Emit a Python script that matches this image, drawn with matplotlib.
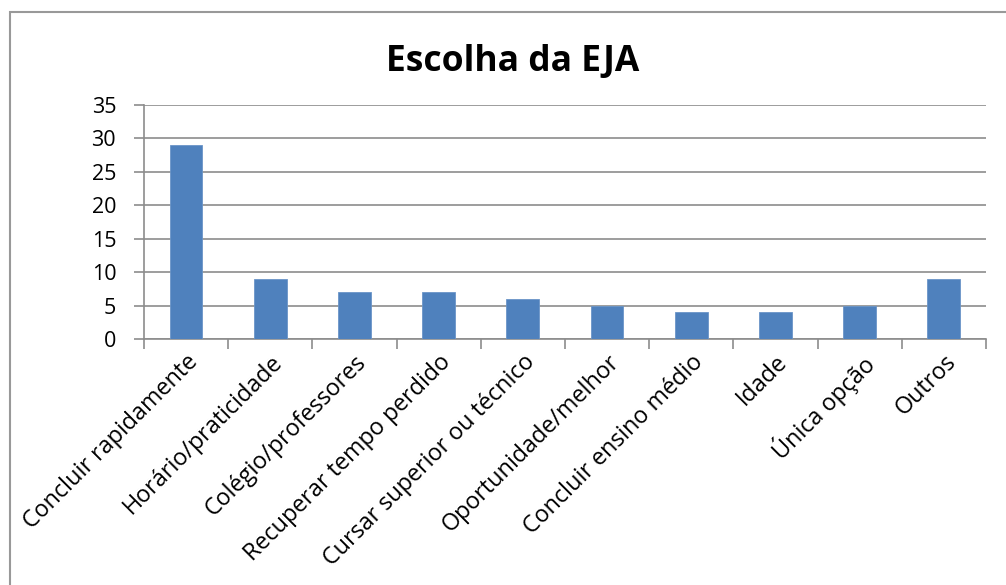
import matplotlib
matplotlib.use("Agg")
import matplotlib.pyplot as plt
from matplotlib.patches import Rectangle

# dados do gráfico
categorias = ["Concluir rapidamente", "Horário/praticidade", "Colégio/professores",
              "Recuperar tempo perdido", "Cursar superior ou técnico",
              "Oportunidade/melhor", "Concluir ensino médio", "Idade",
              "Única opção", "Outros"]
valores = [29, 9, 7, 7, 6, 5, 4, 4, 5, 9]
yticks = [0, 5, 10, 15, 20, 25, 30, 35]

plt.rcParams['font.family'] = ['Open Sans', 'DejaVu Sans']

fig = plt.figure(figsize=(10.06, 5.85), dpi=100)
ax = fig.add_axes([0.1431, 0.4205, 0.8370, 0.4000])

# borda externa do gráfico
fig.patches.append(Rectangle((10/1006, -0.1), 1.2, 1 - 12/585 + 0.1,
                             transform=fig.transFigure, fill=False,
                             edgecolor="#999999", linewidth=1.5))

x = range(len(categorias))
ax.bar(x, valores, width=0.39, color="#4f81bd", edgecolor="#6b95c8", linewidth=0.6, zorder=3)

ax.set_xlim(-0.5, len(categorias) - 0.5)
ax.set_ylim(0, 35)
ax.set_yticks(yticks)
ax.set_yticklabels([str(v) for v in yticks], fontsize=15.5)
ax.grid(axis="y", color="#8c8c8c", linewidth=1.2, zorder=0)

# ticks maiores entre as categorias, rótulos nos menores
ax.set_xticks([i - 0.5 for i in range(len(categorias) + 1)], minor=False)
ax.set_xticklabels([])
ax.set_xticks(list(x), minor=True)
ax.set_xticklabels(categorias, minor=True, rotation=45, ha="right",
                   rotation_mode="anchor", fontsize=16.8)
ax.tick_params(axis="x", which="minor", length=0, pad=8)
ax.tick_params(axis="x", which="major", length=7, width=1.2, color="#8c8c8c", direction="out")
ax.tick_params(axis="y", length=7, width=1.2, color="#8c8c8c", pad=13)

for s in ["top", "right"]:
    ax.spines[s].set_visible(False)
for s in ["left", "bottom"]:
    ax.spines[s].set_color("#8c8c8c")
    ax.spines[s].set_linewidth(1.2)

fig.text(0.51, 1 - 62/585, "Escolha da EJA", ha="center", va="center",
         fontsize=25.5, fontweight="bold")

fig.savefig("out.png", dpi=100)
